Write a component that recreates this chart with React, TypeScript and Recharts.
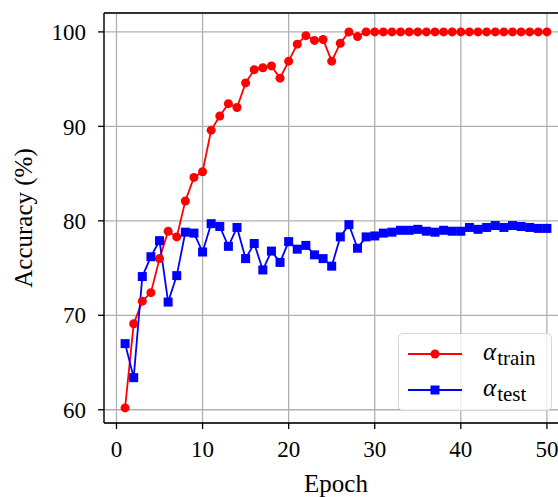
import React from 'react'
import { LineChart, Line, XAxis, YAxis, CartesianGrid, ReferenceLine, Label } from 'recharts'

const epochs = [
  1, 2, 3, 4, 5, 6, 7, 8, 9, 10, 11, 12, 13, 14, 15, 16, 17, 18, 19, 20, 21, 22, 23, 24, 25,
  26, 27, 28, 29, 30, 31, 32, 33, 34, 35, 36, 37, 38, 39, 40, 41, 42, 43, 44, 45, 46, 47, 48, 49, 50,
]

const trainAcc = [
  60.2, 69.1, 71.5, 72.4, 76.0, 78.9, 78.3, 82.1, 84.6, 85.2,
  89.6, 91.1, 92.4, 92.0, 94.6, 96.0, 96.2, 96.4, 95.1, 96.9,
  98.7, 99.6, 99.1, 99.2, 96.9, 98.8, 100, 99.5, 100, 100,
  100, 100, 100, 100, 100, 100, 100, 100, 100, 100,
  100, 100, 100, 100, 100, 100, 100, 100, 100, 100,
]

const testAcc = [
  67.0, 63.4, 74.1, 76.2, 77.9, 71.4, 74.2, 78.8, 78.7, 76.7,
  79.7, 79.4, 77.3, 79.3, 76.0, 77.6, 74.8, 76.8, 75.6, 77.8,
  77.0, 77.4, 76.4, 76.0, 75.2, 78.3, 79.6, 77.1, 78.3, 78.4,
  78.7, 78.8, 79.0, 79.0, 79.1, 78.9, 78.8, 79.0, 78.9, 78.9,
  79.3, 79.1, 79.3, 79.5, 79.3, 79.5, 79.4, 79.3, 79.2, 79.2,
]

const xTicks = [0, 10, 20, 30, 40, 50]
const yTicks = [60, 70, 80, 90, 100]

const FONT = '"Liberation Serif", "DejaVu Serif", serif'

// blue square marker
const SquareDot = (props: any) => {
  const { cx, cy, index } = props
  if (cx == null || cy == null) return null
  return <rect key={`sq-${index}`} x={cx - 4.5} y={cy - 4.5} width={9} height={9} fill="#0000ff" />
}

const LegendRow = ({ color, square, sub }: { color: string; square?: boolean; sub: string }) => (
  <div style={{ display: 'flex', alignItems: 'center', height: 36 }}>
    <svg width={56} height={12} style={{ marginLeft: 8 }}>
      <line x1={1} x2={55} y1={6} y2={6} stroke={color} strokeWidth={1.8} />
      {square ? (
        <rect x={23.5} y={1.5} width={9} height={9} fill={color} />
      ) : (
        <circle cx={28} cy={6} r={4.5} fill={color} />
      )}
    </svg>
    <span style={{ marginLeft: 20, fontFamily: FONT, fontSize: 25, fontStyle: 'italic', lineHeight: 1 }}>
      α
      <sub style={{ fontStyle: 'normal', fontSize: 21, verticalAlign: -5, marginLeft: 1 }}>{sub}</sub>
    </span>
  </div>
)

export default function App() {
  const data = epochs.map((e, i) => ({ epoch: e, train: trainAcc[i], test: testAcc[i] }))

  return (
    <div style={{ position: 'absolute', left: 0, top: 0, width: 558, height: 497, overflow: 'hidden', background: '#fff' }}>
      <LineChart width={572} height={497} data={data} margin={{ top: 13, right: 4, left: 0, bottom: 0 }}>
        <CartesianGrid stroke="#b0b0b0" strokeWidth={1.3} />
        <XAxis
          dataKey="epoch"
          type="number"
          domain={[-1.45, 52.45]}
          ticks={xTicks}
          allowDataOverflow
          height={74}
          stroke="#000"
          strokeWidth={1.3}
          tickSize={6}
          tickMargin={12}
          tick={{ fill: '#000', fontFamily: FONT, fontSize: 23 }}
        >
          <Label value="Epoch" position="insideBottom" offset={5} fill="#000" fontFamily={FONT} fontSize={25} />
        </XAxis>
        <YAxis
          type="number"
          domain={[58.6, 102]}
          ticks={yTicks}
          allowDataOverflow
          width={104}
          stroke="#000"
          strokeWidth={1.3}
          tickSize={6}
          tickMargin={12}
          tick={{ fill: '#000', fontFamily: FONT, fontSize: 23 }}
        >
          <Label
            content={({ viewBox }: any) => {
              const cy = viewBox.y + viewBox.height / 2
              return (
                <text
                  x={32}
                  y={cy}
                  transform={`rotate(-90, 32, ${cy})`}
                  textAnchor="middle"
                  fill="#000"
                  fontFamily={FONT}
                  fontSize={25}
                >
                  Accuracy (%)
                </text>
              )
            }}
          />
        </YAxis>
        <ReferenceLine y={102} stroke="#000" strokeWidth={1.3} />
        <Line
          dataKey="train"
          stroke="#ff0000"
          strokeWidth={1.8}
          dot={{ r: 4.5, fill: '#ff0000', stroke: 'none' }}
          isAnimationActive={false}
        />
        <Line
          dataKey="test"
          stroke="#0000ff"
          strokeWidth={1.8}
          dot={SquareDot}
          isAnimationActive={false}
        />
      </LineChart>
      <div
        style={{
          position: 'absolute',
          left: 398,
          top: 333,
          width: 154,
          height: 78,
          boxSizing: 'border-box',
          border: '1px solid #d6d6d6',
          borderRadius: 5,
          background: 'rgba(255,255,255,0.8)',
          paddingTop: 2,
        }}
      >
        <LegendRow color="#ff0000" sub="train" />
        <LegendRow color="#0000ff" square sub="test" />
      </div>
    </div>
  )
}
